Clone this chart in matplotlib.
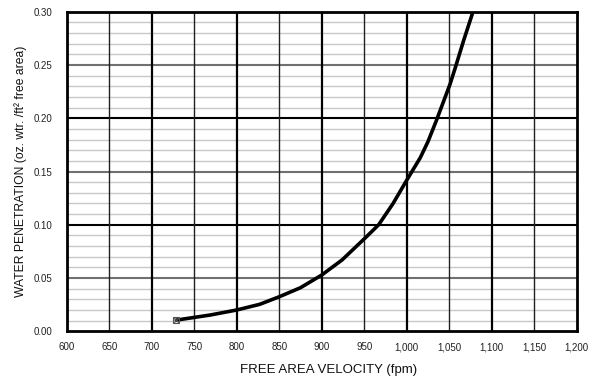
import matplotlib
matplotlib.use("Agg")
import matplotlib.pyplot as plt
import numpy as np
from matplotlib.ticker import FuncFormatter

plt.rcParams['font.family'] = ['Liberation Sans', 'DejaVu Sans']

velocity = [729, 769, 800, 827, 850, 875, 900, 924, 951, 967, 984, 1000,
            1016, 1025, 1035, 1051, 1057, 1067, 1078]
penetration = [0.0105, 0.0153, 0.0200, 0.0253, 0.0324, 0.0409, 0.0528, 0.0670,
               0.0875, 0.1000, 0.1200, 0.1418, 0.1630, 0.1780, 0.1980, 0.2320,
               0.2470, 0.2730, 0.3000]
start_point = (729, 0.0105)

x_ticks = np.arange(600, 1201, 50)
y_ticks = np.arange(0, 0.301, 0.05)

fig = plt.figure(figsize=(6.01, 3.78), dpi=100)
ax = fig.add_axes([66.7/601, 1 - 331.3/378, (576.7-66.7)/601, (331.3-11.7)/378])
ax.set_xlim(600, 1200)
ax.set_ylim(0, 0.30)

# minor horizontal grid
for v in np.arange(0.01, 0.30, 0.01):
    if abs(round(v / 0.05) * 0.05 - v) < 1e-6:
        continue
    ax.axhline(v, color='#c8c8c8', lw=1.0, zorder=1)
for v in [0.05, 0.15, 0.25]:
    ax.axhline(v, color='#707070', lw=1.5, zorder=2)
for v in [0.10, 0.20]:
    ax.axhline(v, color='black', lw=1.5, zorder=3)
for v in x_ticks[1:-1]:
    if v % 100 == 0:
        ax.axvline(v, color='black', lw=1.6, zorder=3)
    else:
        ax.axvline(v, color='#202020', lw=1.0, zorder=3)

ax.plot(velocity, penetration, color='black', lw=2.6, zorder=5,
        solid_capstyle='round', solid_joinstyle='round')
ax.plot([start_point[0]], [start_point[1]], marker='s', ms=5, mfc='none', mec='#555555', mew=0.8, zorder=6)
ax.plot([start_point[0]], [start_point[1]], marker='x', ms=4.5, color='#555555', mew=0.8, zorder=6)

for s in ax.spines.values():
    s.set_linewidth(2)
    s.set_color('black')
    s.set_zorder(7)

ax.set_xticks(x_ticks)
ax.set_yticks(y_ticks)
ax.xaxis.set_major_formatter(FuncFormatter(lambda v, p: f"{int(v):,}"))
ax.yaxis.set_major_formatter(FuncFormatter(lambda v, p: f"{v:.2f}"))
ax.tick_params(length=0, labelsize=7, colors='#222222')
ax.tick_params(axis='x', pad=8)
ax.tick_params(axis='y', pad=10)

ax.set_xlabel("FREE AREA VELOCITY (fpm)", fontsize=9.5, color='#111111')
ax.set_ylabel("WATER PENETRATION (oz. wtr. /ft² free area)", fontsize=8.7, color='#111111')
# label positions in figure pixels (reference: x-label centre ~(329, 370), y-label centre ~(21, 171))
ax.xaxis.set_label_coords(329/601, 1 - 370/378, transform=fig.transFigure)
ax.xaxis.label.set_va('center')
ax.yaxis.set_label_coords(21/601, 1 - 171/378, transform=fig.transFigure)
ax.yaxis.label.set_va('center')

fig.savefig("out.png", dpi=100)
